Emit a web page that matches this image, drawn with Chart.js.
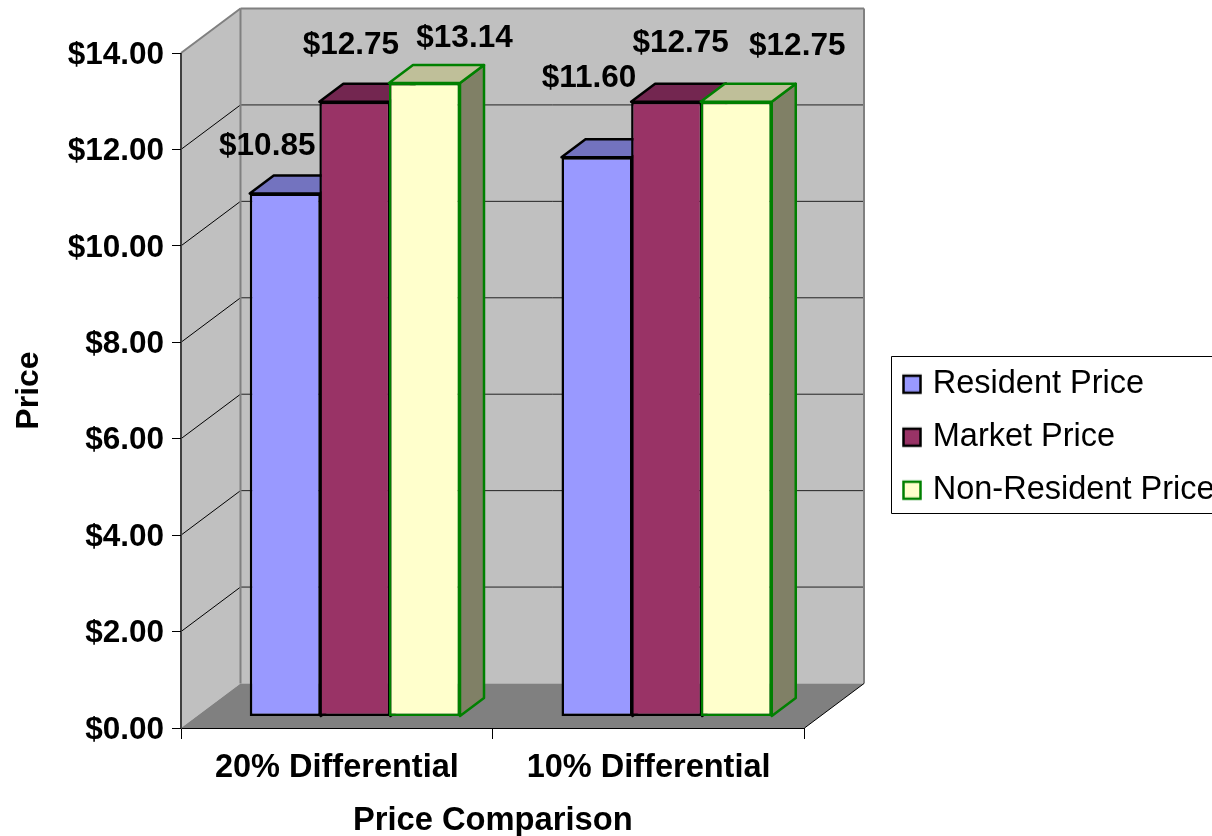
<!DOCTYPE html>
<html><head><meta charset="utf-8">
<style>html,body{margin:0;padding:0;background:#fff}canvas{display:block}</style>
<script src="https://cdn.jsdelivr.net/npm/chart.js@4"></script>
</head><body><canvas id="c" width="1212" height="836"></canvas>
<script>
const categories = ['20% Differential', '10% Differential'];
const residentPrice = [10.85, 11.60];
const marketPrice = [12.75, 12.75];
const nonResidentPrice = [13.14, 12.75];
const seriesNames = ['Resident Price', 'Market Price', 'Non-Resident Price'];
const axisTitles = { x: 'Price Comparison', y: 'Price' };

const FONT = '"Liberation Sans", Arial, sans-serif';
const WALL = { dx: 59.5, dy: -44.5 };
const BAR_SHIFT = { x: 18, y: -11.5 };
const BAR_DEPTH = { dx: 24, dy: -18 };
const FACE = [
  { top: '#7373bf', side: '#4d4d80' },
  { top: '#732650', side: '#4d1933' },
  { top: '#bfbf99', side: '#808066' }
];
/* hand-placed data labels: offset from bar front-top centre (series, category) */
const LABEL_OFFSET = [
  [[-18, -47.5], [-8, -78.5]],
  [[-4, -56.5], [14, -58.5]],
  [[40, -44.5], [61, -55.5]]
];

function poly(ctx, pts, fill, stroke, lw) {
  ctx.beginPath();
  pts.forEach((p, i) => i ? ctx.lineTo(p[0], p[1]) : ctx.moveTo(p[0], p[1]));
  ctx.closePath();
  if (fill) { ctx.fillStyle = fill; ctx.fill(); }
  if (stroke) { ctx.strokeStyle = stroke; ctx.lineWidth = lw; ctx.lineJoin = 'round'; ctx.stroke(); }
}
function seg(ctx, x1, y1, x2, y2, c, lw) {
  ctx.beginPath(); ctx.moveTo(x1, y1); ctx.lineTo(x2, y2);
  ctx.strokeStyle = c; ctx.lineWidth = lw; ctx.stroke();
}
function swatch(fill, stroke) {
  const cv = document.createElement('canvas');
  cv.width = 24; cv.height = 26;
  const c = cv.getContext('2d');
  c.fillStyle = fill; c.fillRect(1, 4, 18, 18);
  c.strokeStyle = stroke; c.lineWidth = 2.5; c.strokeRect(1.5, 5, 17, 17);
  return cv;
}

const box3d = {
  id: 'box3d',
  afterLayout(chart) {
    const lg = chart.legend;
    const w = lg.width, h = lg.height;
    lg.left = 891; lg.top = 347;
    lg.right = lg.left + w; lg.bottom = lg.top + h;
  },
  beforeDraw(chart) {
    const ctx = chart.ctx, a = chart.chartArea, ys = chart.scales.y;
    const L = a.left, R = a.right, B = ys.getPixelForValue(0), T = ys.getPixelForValue(14);
    const dx = WALL.dx, dy = WALL.dy;
    ctx.save();
    poly(ctx, [[L + dx, T + dy], [R + dx, T + dy], [R + dx, B + dy], [L + dx, B + dy]], '#c0c0c0');
    poly(ctx, [[L, T], [L + dx, T + dy], [L + dx, B + dy], [L, B]], '#c0c0c0');
    ys.ticks.forEach(t => {
      const y = ys.getPixelForValue(t.value);
      if (t.value === 0 || t.value === 14) return;
      seg(ctx, L, y, L + dx, y + dy, '#000', 1);
      seg(ctx, L + dx, y + dy, R + dx, y + dy, '#222', 1);
    });
    seg(ctx, L, T, L + dx, T + dy, '#808080', 2);
    seg(ctx, L + dx, T + dy, R + dx, T + dy, '#808080', 2);
    seg(ctx, R + dx, T + dy, R + dx, B + dy, '#808080', 2);
    seg(ctx, L + dx, T + dy, L + dx, B + dy, '#808080', 2);
    poly(ctx, [[L, B], [L + dx, B + dy], [R + dx, B + dy], [R, B]], '#808080');
    seg(ctx, R, B, R + dx, B + dy, '#000', 1);
    seg(ctx, L, T, L, B, '#404040', 2);
    ctx.restore();
  },
  beforeDatasetsDraw(chart) {
    const ctx = chart.ctx;
    ctx.save();
    ctx.translate(BAR_SHIFT.x, BAR_SHIFT.y);
    const metas = chart.getSortedVisibleDatasetMetas();
    metas.forEach((m, si) => {
      const ds = chart.data.datasets[m.index];
      m.data.forEach(el => {
        const p = el.getProps(['x', 'y', 'base', 'width'], true);
        const l = p.x - p.width / 2, r = p.x + p.width / 2, d = BAR_DEPTH;
        poly(ctx, [[r, p.y], [r + d.dx, p.y + d.dy], [r + d.dx, p.base + d.dy], [r, p.base]], FACE[si].side, ds.borderColor, 2.5);
        poly(ctx, [[l, p.y], [r, p.y], [r + d.dx, p.y + d.dy], [l + d.dx, p.y + d.dy]], FACE[si].top, ds.borderColor, 2.5);
      });
      m.controller.draw();
    });
    ctx.restore();

    ctx.save();
    ctx.font = 'bold 31.5px ' + FONT;
    ctx.fillStyle = '#000'; ctx.textAlign = 'center'; ctx.textBaseline = 'middle';
    metas.forEach((m, si) => {
      const vals = chart.data.datasets[m.index].data;
      m.data.forEach((el, i) => {
        const o = LABEL_OFFSET[si][i];
        ctx.fillText('$' + vals[i].toFixed(2), el.x + BAR_SHIFT.x + o[0], el.y + BAR_SHIFT.y + o[1]);
      });
    });
    ctx.restore();

    ctx.save();
    ctx.strokeStyle = '#000'; ctx.lineWidth = 1;
    ctx.beginPath(); ctx.moveTo(1212, 356.5); ctx.lineTo(891.5, 356.5); ctx.lineTo(891.5, 513.5); ctx.lineTo(1212, 513.5);
    ctx.stroke();
    ctx.restore();
    return false;
  }
};

const datasets = [
  { label: seriesNames[0], data: residentPrice, backgroundColor: '#9999ff', borderColor: '#000000' },
  { label: seriesNames[1], data: marketPrice, backgroundColor: '#993366', borderColor: '#000000' },
  { label: seriesNames[2], data: nonResidentPrice, backgroundColor: '#ffffcc', borderColor: '#008000' }
];
const swatches = datasets.map(d => swatch(d.backgroundColor, d.borderColor));

new Chart(document.getElementById('c'), {
  type: 'bar',
  data: { labels: categories, datasets },
  options: {
    responsive: false,
    animation: false,
    layout: { padding: { left: 0, top: 53, right: 407.5, bottom: 0 } },
    datasets: { bar: { categoryPercentage: 0.67, barPercentage: 1.02, borderWidth: 2.5, borderSkipped: false } },
    plugins: {
      tooltip: { enabled: false },
      title: { display: false },
      legend: {
        position: 'chartArea', align: 'start',
        labels: {
          usePointStyle: true, pointStyleWidth: 5, boxHeight: 17, padding: 20.5, color: '#000',
          font: { family: FONT, size: 32.5 },
          generateLabels(chart) {
            const items = Chart.defaults.plugins.legend.labels.generateLabels(chart);
            items.forEach((it, i) => { it.pointStyle = swatches[i]; });
            return items;
          }
        }
      }
    },
    scales: {
      x: {
        grid: { drawOnChartArea: false, drawTicks: true, tickLength: 11, color: '#000', offset: true },
        border: { color: '#000', width: 1 },
        ticks: { color: '#000', font: { family: FONT, size: 32.5, weight: 'bold' }, padding: 10, maxRotation: 0 },
        title: { display: true, text: axisTitles.x, color: '#000', font: { family: FONT, size: 32.7, weight: 'bold' }, padding: { top: 8, bottom: -5 } },
        afterFit(s) { s.height = 108; }
      },
      y: {
        min: 0, max: 14,
        grid: { drawOnChartArea: false, drawTicks: true, tickLength: 9, color: '#000' },
        border: { color: '#404040', width: 1 },
        ticks: {
          stepSize: 2, color: '#000', padding: 8, labelOffset: 2,
          font: { family: FONT, size: 31.5, weight: 'bold' },
          callback: v => '$' + v.toFixed(2)
        },
        title: { display: true, text: axisTitles.y, color: '#000', font: { family: FONT, size: 32, weight: 'bold' }, padding: { top: 10, bottom: 0 } },
        afterFit(s) { s.width = 181; }
      }
    }
  },
  plugins: [box3d]
});
</script></body></html>
